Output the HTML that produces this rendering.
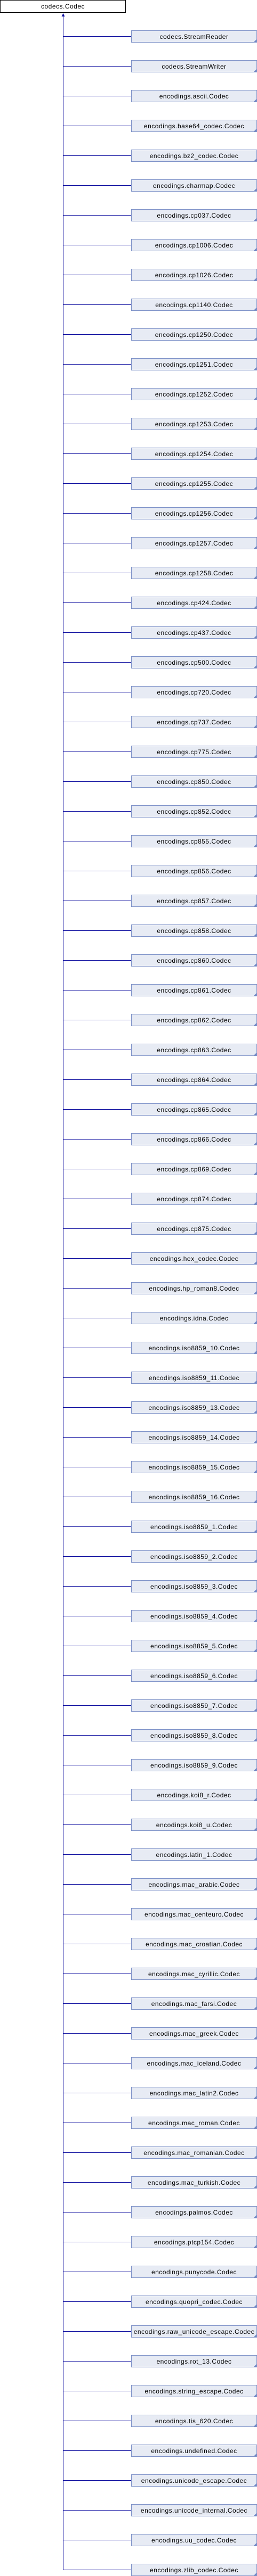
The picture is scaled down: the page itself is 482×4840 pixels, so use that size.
<!DOCTYPE html>
<html><head><meta charset="utf-8"><style>
html,body{margin:0;padding:0;background:#fff;}
svg{display:block;}
text{font-family:"Liberation Sans",sans-serif;font-size:12px;letter-spacing:0.5px;fill:#000;text-anchor:middle;}
</style></head><body>
<svg width="482" height="4840" viewBox="0 0 482 4840" xmlns="http://www.w3.org/2000/svg">
<defs>
<g id="b">
<line x1="118.5" y1="11.5" x2="246" y2="11.5" stroke="#0c0c9e" stroke-width="1"/>
<rect x="246.5" y="0.5" width="235" height="22" fill="#e7ebf4" stroke="#7e92c8" stroke-width="1"/>
<polygon points="481,17 481,22 476,22" fill="#6f86c4"/>
</g>
</defs>
<rect x="0.5" y="0.5" width="235" height="23" fill="#fff" stroke="#000" stroke-width="1"/>
<text x="118" y="16">codecs.Codec</text>
<line x1="118.5" y1="30" x2="118.5" y2="4828.5" stroke="#0c0c9e" stroke-width="1"/>
<polygon points="118.5,25 115.5,31 121.5,31" fill="#0c0c9e"/>
<g transform="translate(0,57)"><use href="#b"/><text x="364" y="16">codecs.StreamReader</text></g>
<g transform="translate(0,113)"><use href="#b"/><text x="364" y="16">codecs.StreamWriter</text></g>
<g transform="translate(0,169)"><use href="#b"/><text x="364" y="16">encodings.ascii.Codec</text></g>
<g transform="translate(0,225)"><use href="#b"/><text x="364" y="16">encodings.base64_codec.Codec</text></g>
<g transform="translate(0,281)"><use href="#b"/><text x="364" y="16">encodings.bz2_codec.Codec</text></g>
<g transform="translate(0,337)"><use href="#b"/><text x="364" y="16">encodings.charmap.Codec</text></g>
<g transform="translate(0,393)"><use href="#b"/><text x="364" y="16">encodings.cp037.Codec</text></g>
<g transform="translate(0,449)"><use href="#b"/><text x="364" y="16">encodings.cp1006.Codec</text></g>
<g transform="translate(0,505)"><use href="#b"/><text x="364" y="16">encodings.cp1026.Codec</text></g>
<g transform="translate(0,561)"><use href="#b"/><text x="364" y="16">encodings.cp1140.Codec</text></g>
<g transform="translate(0,617)"><use href="#b"/><text x="364" y="16">encodings.cp1250.Codec</text></g>
<g transform="translate(0,673)"><use href="#b"/><text x="364" y="16">encodings.cp1251.Codec</text></g>
<g transform="translate(0,729)"><use href="#b"/><text x="364" y="16">encodings.cp1252.Codec</text></g>
<g transform="translate(0,785)"><use href="#b"/><text x="364" y="16">encodings.cp1253.Codec</text></g>
<g transform="translate(0,841)"><use href="#b"/><text x="364" y="16">encodings.cp1254.Codec</text></g>
<g transform="translate(0,897)"><use href="#b"/><text x="364" y="16">encodings.cp1255.Codec</text></g>
<g transform="translate(0,953)"><use href="#b"/><text x="364" y="16">encodings.cp1256.Codec</text></g>
<g transform="translate(0,1009)"><use href="#b"/><text x="364" y="16">encodings.cp1257.Codec</text></g>
<g transform="translate(0,1065)"><use href="#b"/><text x="364" y="16">encodings.cp1258.Codec</text></g>
<g transform="translate(0,1121)"><use href="#b"/><text x="364" y="16">encodings.cp424.Codec</text></g>
<g transform="translate(0,1177)"><use href="#b"/><text x="364" y="16">encodings.cp437.Codec</text></g>
<g transform="translate(0,1233)"><use href="#b"/><text x="364" y="16">encodings.cp500.Codec</text></g>
<g transform="translate(0,1289)"><use href="#b"/><text x="364" y="16">encodings.cp720.Codec</text></g>
<g transform="translate(0,1345)"><use href="#b"/><text x="364" y="16">encodings.cp737.Codec</text></g>
<g transform="translate(0,1401)"><use href="#b"/><text x="364" y="16">encodings.cp775.Codec</text></g>
<g transform="translate(0,1457)"><use href="#b"/><text x="364" y="16">encodings.cp850.Codec</text></g>
<g transform="translate(0,1513)"><use href="#b"/><text x="364" y="16">encodings.cp852.Codec</text></g>
<g transform="translate(0,1569)"><use href="#b"/><text x="364" y="16">encodings.cp855.Codec</text></g>
<g transform="translate(0,1625)"><use href="#b"/><text x="364" y="16">encodings.cp856.Codec</text></g>
<g transform="translate(0,1681)"><use href="#b"/><text x="364" y="16">encodings.cp857.Codec</text></g>
<g transform="translate(0,1737)"><use href="#b"/><text x="364" y="16">encodings.cp858.Codec</text></g>
<g transform="translate(0,1793)"><use href="#b"/><text x="364" y="16">encodings.cp860.Codec</text></g>
<g transform="translate(0,1849)"><use href="#b"/><text x="364" y="16">encodings.cp861.Codec</text></g>
<g transform="translate(0,1905)"><use href="#b"/><text x="364" y="16">encodings.cp862.Codec</text></g>
<g transform="translate(0,1961)"><use href="#b"/><text x="364" y="16">encodings.cp863.Codec</text></g>
<g transform="translate(0,2017)"><use href="#b"/><text x="364" y="16">encodings.cp864.Codec</text></g>
<g transform="translate(0,2073)"><use href="#b"/><text x="364" y="16">encodings.cp865.Codec</text></g>
<g transform="translate(0,2129)"><use href="#b"/><text x="364" y="16">encodings.cp866.Codec</text></g>
<g transform="translate(0,2185)"><use href="#b"/><text x="364" y="16">encodings.cp869.Codec</text></g>
<g transform="translate(0,2241)"><use href="#b"/><text x="364" y="16">encodings.cp874.Codec</text></g>
<g transform="translate(0,2297)"><use href="#b"/><text x="364" y="16">encodings.cp875.Codec</text></g>
<g transform="translate(0,2353)"><use href="#b"/><text x="364" y="16">encodings.hex_codec.Codec</text></g>
<g transform="translate(0,2409)"><use href="#b"/><text x="364" y="16">encodings.hp_roman8.Codec</text></g>
<g transform="translate(0,2465)"><use href="#b"/><text x="364" y="16">encodings.idna.Codec</text></g>
<g transform="translate(0,2521)"><use href="#b"/><text x="364" y="16">encodings.iso8859_10.Codec</text></g>
<g transform="translate(0,2577)"><use href="#b"/><text x="364" y="16">encodings.iso8859_11.Codec</text></g>
<g transform="translate(0,2633)"><use href="#b"/><text x="364" y="16">encodings.iso8859_13.Codec</text></g>
<g transform="translate(0,2689)"><use href="#b"/><text x="364" y="16">encodings.iso8859_14.Codec</text></g>
<g transform="translate(0,2745)"><use href="#b"/><text x="364" y="16">encodings.iso8859_15.Codec</text></g>
<g transform="translate(0,2801)"><use href="#b"/><text x="364" y="16">encodings.iso8859_16.Codec</text></g>
<g transform="translate(0,2857)"><use href="#b"/><text x="364" y="16">encodings.iso8859_1.Codec</text></g>
<g transform="translate(0,2913)"><use href="#b"/><text x="364" y="16">encodings.iso8859_2.Codec</text></g>
<g transform="translate(0,2969)"><use href="#b"/><text x="364" y="16">encodings.iso8859_3.Codec</text></g>
<g transform="translate(0,3025)"><use href="#b"/><text x="364" y="16">encodings.iso8859_4.Codec</text></g>
<g transform="translate(0,3081)"><use href="#b"/><text x="364" y="16">encodings.iso8859_5.Codec</text></g>
<g transform="translate(0,3137)"><use href="#b"/><text x="364" y="16">encodings.iso8859_6.Codec</text></g>
<g transform="translate(0,3193)"><use href="#b"/><text x="364" y="16">encodings.iso8859_7.Codec</text></g>
<g transform="translate(0,3249)"><use href="#b"/><text x="364" y="16">encodings.iso8859_8.Codec</text></g>
<g transform="translate(0,3305)"><use href="#b"/><text x="364" y="16">encodings.iso8859_9.Codec</text></g>
<g transform="translate(0,3361)"><use href="#b"/><text x="364" y="16">encodings.koi8_r.Codec</text></g>
<g transform="translate(0,3417)"><use href="#b"/><text x="364" y="16">encodings.koi8_u.Codec</text></g>
<g transform="translate(0,3473)"><use href="#b"/><text x="364" y="16">encodings.latin_1.Codec</text></g>
<g transform="translate(0,3529)"><use href="#b"/><text x="364" y="16">encodings.mac_arabic.Codec</text></g>
<g transform="translate(0,3585)"><use href="#b"/><text x="364" y="16">encodings.mac_centeuro.Codec</text></g>
<g transform="translate(0,3641)"><use href="#b"/><text x="364" y="16">encodings.mac_croatian.Codec</text></g>
<g transform="translate(0,3697)"><use href="#b"/><text x="364" y="16">encodings.mac_cyrillic.Codec</text></g>
<g transform="translate(0,3753)"><use href="#b"/><text x="364" y="16">encodings.mac_farsi.Codec</text></g>
<g transform="translate(0,3809)"><use href="#b"/><text x="364" y="16">encodings.mac_greek.Codec</text></g>
<g transform="translate(0,3865)"><use href="#b"/><text x="364" y="16">encodings.mac_iceland.Codec</text></g>
<g transform="translate(0,3921)"><use href="#b"/><text x="364" y="16">encodings.mac_latin2.Codec</text></g>
<g transform="translate(0,3977)"><use href="#b"/><text x="364" y="16">encodings.mac_roman.Codec</text></g>
<g transform="translate(0,4033)"><use href="#b"/><text x="364" y="16">encodings.mac_romanian.Codec</text></g>
<g transform="translate(0,4089)"><use href="#b"/><text x="364" y="16">encodings.mac_turkish.Codec</text></g>
<g transform="translate(0,4145)"><use href="#b"/><text x="364" y="16">encodings.palmos.Codec</text></g>
<g transform="translate(0,4201)"><use href="#b"/><text x="364" y="16">encodings.ptcp154.Codec</text></g>
<g transform="translate(0,4257)"><use href="#b"/><text x="364" y="16">encodings.punycode.Codec</text></g>
<g transform="translate(0,4313)"><use href="#b"/><text x="364" y="16">encodings.quopri_codec.Codec</text></g>
<g transform="translate(0,4369)"><use href="#b"/><text x="364" y="16">encodings.raw_unicode_escape.Codec</text></g>
<g transform="translate(0,4425)"><use href="#b"/><text x="364" y="16">encodings.rot_13.Codec</text></g>
<g transform="translate(0,4481)"><use href="#b"/><text x="364" y="16">encodings.string_escape.Codec</text></g>
<g transform="translate(0,4537)"><use href="#b"/><text x="364" y="16">encodings.tis_620.Codec</text></g>
<g transform="translate(0,4593)"><use href="#b"/><text x="364" y="16">encodings.undefined.Codec</text></g>
<g transform="translate(0,4649)"><use href="#b"/><text x="364" y="16">encodings.unicode_escape.Codec</text></g>
<g transform="translate(0,4705)"><use href="#b"/><text x="364" y="16">encodings.unicode_internal.Codec</text></g>
<g transform="translate(0,4761)"><use href="#b"/><text x="364" y="16">encodings.uu_codec.Codec</text></g>
<g transform="translate(0,4817)"><use href="#b"/><text x="364" y="16">encodings.zlib_codec.Codec</text></g>
</svg>
</body></html>
